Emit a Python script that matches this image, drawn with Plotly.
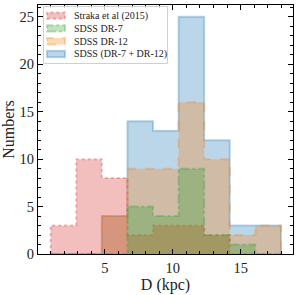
import plotly.graph_objects as go

# Bin edges (kpc) shared by all histograms
bin_edges = [1.0, 2.885, 4.77, 6.655, 8.54, 10.425, 12.31, 14.195, 16.08, 17.965]

# Counts per bin
straka_counts = [3, 10, 8, 2, 3, 3, 2, 0, 0]
dr7_counts = [0, 0, 0, 5, 4, 9, 2, 1, 0]
dr12_counts = [0, 0, 4, 9, 9, 16, 10, 2, 3]
combined_counts = [0, 0, 4, 14, 13, 25, 12, 3, 3]

series_names = ["Straka et al (2015)", "SDSS DR-7", "SDSS DR-12", "SDSS (DR-7 + DR-12)"]
series_counts = [straka_counts, dr7_counts, dr12_counts, combined_counts]
series_rgb = [(214, 39, 40), (44, 160, 44), (255, 127, 14), (31, 119, 180)]
series_dash = ["dot", "dashdot", "dash", "solid"]
draw_order = [3, 0, 2, 1]  # combined first, then Straka, DR-12, DR-7 on top

x_ticks = [5, 10, 15]
y_ticks = [0, 5, 10, 15, 20, 25]

FONT = "Liberation Serif"

W, H = 299, 295
ML, MR, MT, MB = 38, 6, 4, 40
PW, PH = W - ML - MR, H - MT - MB


def px_x(px):
    return (px - ML) / PW


def px_y(py):
    return (H - MB - py) / PH


fig = go.Figure()
for i in draw_order:
    name, counts, rgb, dash = series_names[i], series_counts[i], series_rgb[i], series_dash[i]
    xs = [bin_edges[0]] + bin_edges[:-1] + [bin_edges[-1]]
    ys = [0] + counts + [0]
    r, g, b = rgb
    fig.add_trace(go.Scatter(
        x=xs, y=ys, mode="lines", line_shape="hv", name=name,
        fill="tozeroy", fillcolor=f"rgba({r},{g},{b},0.3)",
        line=dict(color=f"rgba({r},{g},{b},0.3)", width=2, dash=dash),
        hoverinfo="skip", showlegend=False,
    ))

# Manual legend (box, swatches, labels)
shapes = [dict(
    type="rect", xref="paper", yref="paper", layer="above",
    x0=px_x(43.5), x1=px_x(167.5), y0=px_y(63), y1=px_y(5.5),
    fillcolor="rgba(255,255,255,0.8)", line=dict(color="#d0d0d0", width=1),
)]
annotations = []
entry_y = [14.7, 27.6, 40.5, 53.4]
for name, rgb, dash, ey in zip(series_names, series_rgb, series_dash, entry_y):
    r, g, b = rgb
    shapes.append(dict(
        type="rect", xref="paper", yref="paper", layer="above",
        x0=px_x(47), x1=px_x(65), y0=px_y(ey + 3.2), y1=px_y(ey - 3.2),
        fillcolor=f"rgba({r},{g},{b},0.3)",
        line=dict(color=f"rgba({r},{g},{b},0.3)", width=2, dash=dash),
    ))
    annotations.append(dict(
        xref="paper", yref="paper", x=px_x(72), y=px_y(ey),
        xanchor="left", yanchor="middle", showarrow=False, text=name,
        font=dict(family=FONT, size=10, color="#222"),
    ))

axis_common = dict(
    showline=True, linecolor="black", linewidth=1.3, mirror="allticks",
    ticks="inside", ticklen=5, tickwidth=1, tickcolor="black",
    showgrid=False, zeroline=False,
    tickfont=dict(family=FONT, size=14.5, color="#222"),
    minor=dict(ticks="inside", ticklen=2.5, tickwidth=0.8, tickcolor="black", dtick=1),
)

fig.update_layout(
    width=W, height=H,
    margin=dict(l=ML, r=MR, t=MT, b=MB),
    plot_bgcolor="white", paper_bgcolor="white",
    font=dict(family=FONT, color="#222"),
    xaxis=dict(range=[0.07, 18.85], tickvals=x_ticks, title=dict(text="D (kpc)", font=dict(family=FONT, size=16), standoff=4), **axis_common),
    yaxis=dict(range=[0, 26.25], tickvals=y_ticks, title=dict(text="Numbers", font=dict(family=FONT, size=16), standoff=4), **axis_common),
    shapes=shapes, annotations=annotations,
    showlegend=False,
)

fig.write_html("out.html", config={"displayModeBar": False},
               post_script="document.body.style.margin='0';")
